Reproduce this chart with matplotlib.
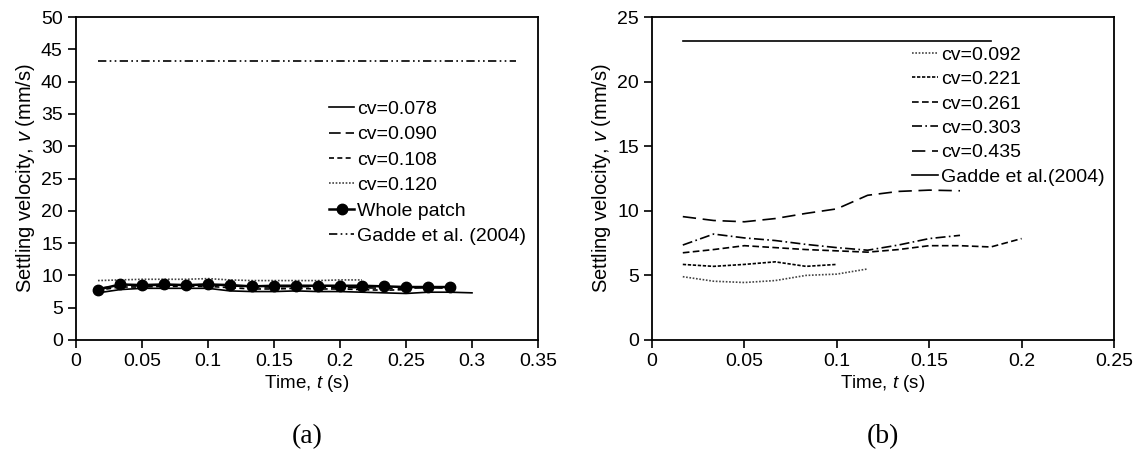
import numpy as np
import matplotlib
matplotlib.use("Agg")
import matplotlib.pyplot as plt

plt.rcParams['font.family'] = ['Liberation Sans', 'DejaVu Sans']
plt.rcParams['mathtext.fontset'] = 'custom'
plt.rcParams['mathtext.rm'] = 'Liberation Sans'
plt.rcParams['mathtext.it'] = 'Liberation Sans:italic'

# ---- panel (a) data ----
t_a = np.arange(1, 19) / 60.0
cv078 = [7.3, 7.8, 8.0, 8.0, 8.0, 8.0, 7.6, 7.5, 7.5, 7.6, 7.5, 7.5, 7.4, 7.3, 7.2, 7.4, 7.4, 7.3]
cv090 = [8.0, 8.4, 8.4, 8.5, 8.5, 8.6, 8.4, 8.2, 8.2, 8.3, 8.2, 8.1, 8.1, 8.0, 8.0, 8.1, 8.0]
cv108 = [7.7, 8.2, 8.2, 8.3, 8.3, 8.3, 8.1, 7.9, 7.9, 8.0, 7.9, 7.9, 7.8, 7.7, 7.8]
cv120 = [9.2, 9.3, 9.4, 9.4, 9.4, 9.5, 9.3, 9.2, 9.2, 9.2, 9.2, 9.3, 9.3]
whole = [7.8, 8.6, 8.5, 8.6, 8.5, 8.6, 8.5, 8.3, 8.4, 8.4, 8.4, 8.4, 8.4, 8.3, 8.2, 8.2, 8.2]
gadde_a_t = [1 / 60.0, 20 / 60.0]
gadde_a = [43.2, 43.2]

# ---- panel (b) data ----
t_b = np.arange(1, 13) / 60.0
cv092 = [4.9, 4.55, 4.45, 4.6, 5.0, 5.1, 5.5]
cv221 = [5.85, 5.7, 5.85, 6.05, 5.7, 5.85]
cv261 = [6.75, 7.0, 7.3, 7.15, 7.0, 6.9, 6.8, 7.0, 7.3, 7.3, 7.2, 7.85]
cv303 = [7.35, 8.2, 7.9, 7.7, 7.4, 7.15, 6.95, 7.35, 7.85, 8.1]
cv435 = [9.55, 9.25, 9.15, 9.4, 9.8, 10.15, 11.2, 11.5, 11.6, 11.55]
gadde_b_t = [1 / 60.0, 11 / 60.0]
gadde_b = [23.15, 23.15]

fig = plt.figure(figsize=(11.45, 4.53), dpi=100)
ax1 = fig.add_axes([76 / 1145, 1 - 340 / 453, 462 / 1145, 323 / 453])
ax2 = fig.add_axes([652 / 1145, 1 - 340 / 453, 462 / 1145, 323 / 453])

lw = 1.2
ax1.plot(t_a[:len(cv078)], cv078, color='black', lw=lw, ls='-', label='cv=0.078')
ax1.plot(t_a[:len(cv090)], cv090, color='black', lw=lw, ls=(0, (7, 3)), label='cv=0.090')
ax1.plot(t_a[:len(cv108)], cv108, color='black', lw=lw, ls=(0, (3, 2)), label='cv=0.108')
ax1.plot(t_a[:len(cv120)], cv120, color='#444444', lw=lw, ls=(0, (1, 1)), label='cv=0.120')
ax1.plot(t_a[:len(whole)], whole, color='black', lw=1.8, marker='o', ms=7.5, label='Whole patch')
ax1.plot(gadde_a_t, gadde_a, color='black', lw=lw, ls=(0, (5, 2, 1, 2, 1, 2)), label='Gadde et al. (2004)')

ax2.plot(t_b[:len(cv092)], cv092, color='#444444', lw=lw, ls=(0, (1, 1)), label='cv=0.092')
ax2.plot(t_b[:len(cv221)], cv221, color='black', lw=lw, ls=(0, (2, 1)), label='cv=0.221')
ax2.plot(t_b[:len(cv261)], cv261, color='black', lw=lw, ls=(0, (4, 2)), label='cv=0.261')
ax2.plot(t_b[:len(cv303)], cv303, color='black', lw=lw, ls=(0, (6, 2, 1, 2)), label='cv=0.303')
ax2.plot(t_b[:len(cv435)], cv435, color='black', lw=lw, ls=(0, (8, 4)), label='cv=0.435')
ax2.plot(gadde_b_t, gadde_b, color='black', lw=lw, ls='-', label='Gadde et al.(2004)')

ax1.set_xlim(0, 0.35)
ax1.set_ylim(0, 50)
ax1.set_xticks(np.arange(0, 0.351, 0.05))
ax1.set_xticklabels(['0', '0.05', '0.1', '0.15', '0.2', '0.25', '0.3', '0.35'])
ax1.set_yticks(np.arange(0, 51, 5))

ax2.set_xlim(0, 0.25)
ax2.set_ylim(0, 25)
ax2.set_xticks(np.arange(0, 0.251, 0.05))
ax2.set_xticklabels(['0', '0.05', '0.1', '0.15', '0.2', '0.25'])
ax2.set_yticks(np.arange(0, 26, 5))

for ax, lab in [(ax1, '(a)'), (ax2, '(b)')]:
    for s in ax.spines.values():
        s.set_linewidth(1.3)
    ax.tick_params(direction='out', length=6, width=1.2, labelsize=14)
    ax.set_xlabel('Time, $t$ (s)', fontsize=13.5, labelpad=2)
    ax.set_ylabel('Settling velocity, $v$ (mm/s)', fontsize=14.5, labelpad=3)
    ax.text(0.5, -0.3, lab, transform=ax.transAxes, ha='center', va='center',
            fontsize=20, family='Liberation Serif')

ax1.legend(loc='upper left', bbox_to_anchor=(0.531, 0.766), frameon=False, fontsize=14,
           handlelength=1.3, handletextpad=0.15, labelspacing=0.4, borderaxespad=0)
ax2.legend(loc='upper left', bbox_to_anchor=(0.547, 0.934), frameon=False, fontsize=14,
           handlelength=1.3, handletextpad=0.15, labelspacing=0.35, borderaxespad=0)

fig.savefig('out.png', dpi=100)
